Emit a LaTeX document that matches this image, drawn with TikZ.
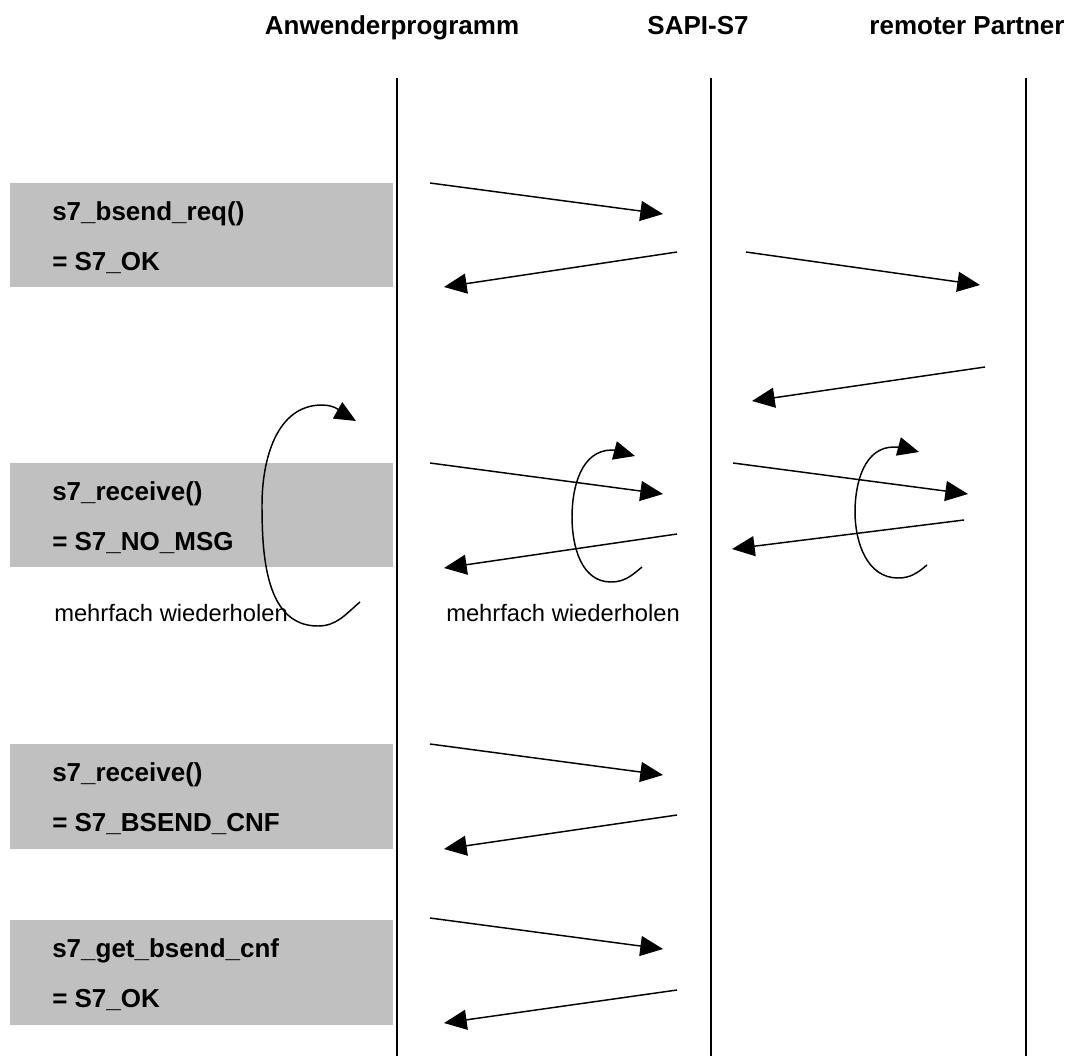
\documentclass[tikz,border=0pt]{standalone}
\usepackage{fontspec}
\setmainfont{Liberation Sans}
\usetikzlibrary{arrows.meta}
\definecolor{boxgray}{RGB}{192,192,192}
\begin{document}
\begin{tikzpicture}[x=0.75pt,y=-0.75pt,
  title/.style={font=\fontsize{19.5}{23}\selectfont\bfseries, anchor=base, inner sep=0pt},
  call/.style={font=\fontsize{19.5}{23}\selectfont\bfseries, anchor=base west, inner sep=0pt},
  note/.style={font=\fontsize{17.8}{21}\selectfont, anchor=base west, inner sep=0pt},
  lifeline/.style={line width=1.1pt},
  msg/.style={line width=1.1pt, -{Triangle[length=17pt,width=15pt]}},
  loopy/.style={line width=1.1pt, -{Triangle[length=16pt,width=14pt]}},
  callbox/.style={fill=boxgray, draw=none}]
\useasboundingbox (0,0) rectangle (1080,1056);

% grey boxes behind the calls
\fill[callbox] (10,183) rectangle (393,287);
\fill[callbox] (10,463) rectangle (393,567);
\fill[callbox] (10,744) rectangle (393,849);
\fill[callbox] (10,920) rectangle (393,1025);

% column headings
\node[title] (tA) at (392,35) {Anwenderprogramm};
\node[title] (tS) at (698,35) {SAPI-S7};
\node[title] (tP) at (967,35) {remoter Partner};

% lifelines
\coordinate (A0) at (397,78);  \coordinate (A1) at (397,1056);
\coordinate (S0) at (711,78);  \coordinate (S1) at (711,1056);
\coordinate (P0) at (1026,78); \coordinate (P1) at (1026,1056);
\draw[lifeline] (A0) -- (A1);
\draw[lifeline] (S0) -- (S1);
\draw[lifeline] (P0) -- (P1);

% call labels
\node[call] (c1a) at (52,220) {s7\_bsend\_req()};
\node[call] (c1b) at (52,270) {= S7\_OK};
\node[call] (c2a) at (52,500) {s7\_receive()};
\node[call] (c2b) at (52,550) {= S7\_NO\_MSG};
\node[call] (c3a) at (52,781) {s7\_receive()};
\node[call] (c3b) at (52,831) {= S7\_BSEND\_CNF};
\node[call] (c4a) at (52,957) {s7\_get\_bsend\_cnf};
\node[call] (c4b) at (52,1007) {= S7\_OK};

% repeat notes
\node[note] (n1) at (54,621) {mehrfach wiederholen};
\node[note] (n2) at (446,621) {mehrfach wiederholen};

% message end points
\coordinate (m1s) at (430,183); \coordinate (m1e) at (663,214);
\coordinate (m2s) at (677,252); \coordinate (m2e) at (444,287);
\coordinate (m3s) at (746,252); \coordinate (m3e) at (980,285);
\coordinate (m4s) at (985,367); \coordinate (m4e) at (752,401);
\coordinate (m5s) at (430,463); \coordinate (m5e) at (663,494);
\coordinate (m6s) at (677,534); \coordinate (m6e) at (444,568);
\coordinate (m7s) at (733,463); \coordinate (m7e) at (968,494);
\coordinate (m8s) at (964,520); \coordinate (m8e) at (732,549);
\coordinate (m9s) at (430,744); \coordinate (m9e) at (663,775);
\coordinate (m10s) at (677,815); \coordinate (m10e) at (444,849);
\coordinate (m11s) at (430,918); \coordinate (m11e) at (663,949);
\coordinate (m12s) at (677,990); \coordinate (m12e) at (444,1023);

\foreach \i in {1,...,12} \draw[msg] (m\i s) -- (m\i e);

% repeat loops
\coordinate (L1s) at (360,602); \coordinate (L1b) at (318,626);
\coordinate (L1l) at (262,505); \coordinate (L1t) at (322,405);
\coordinate (L1e) at (356,421);
\draw[loopy] (L1s) to[out=220,in=0] (L1b) to[out=180,in=270] (L1l)
  to[out=90,in=180] (L1t) to[out=0,in=150] (L1e);

\coordinate (L2s) at (642,567); \coordinate (L2b) at (611,582);
\coordinate (L2l) at (572,517); \coordinate (L2t) at (612,450);
\coordinate (L2e) at (635,456);
\draw[loopy] (L2s) to[out=220,in=0] (L2b) to[out=180,in=270] (L2l)
  to[out=90,in=180] (L2t) to[out=0,in=165] (L2e);

\coordinate (L3s) at (927,565); \coordinate (L3b) at (898,578);
\coordinate (L3l) at (855,512); \coordinate (L3t) at (894,447);
\coordinate (L3e) at (919,452);
\draw[loopy] (L3s) to[out=220,in=0] (L3b) to[out=180,in=270] (L3l)
  to[out=90,in=180] (L3t) to[out=0,in=165] (L3e);
\end{tikzpicture}
\end{document}
